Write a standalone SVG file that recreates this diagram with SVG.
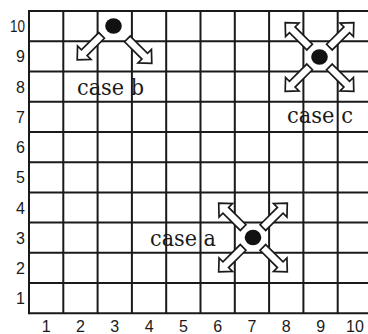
<svg xmlns="http://www.w3.org/2000/svg" xmlns:xlink="http://www.w3.org/1999/xlink" width="368" height="334" viewBox="0 0 368 334">
<style>
.g{stroke:#1a1a1a;stroke-width:2;fill:none}
.ax{font-family:"Liberation Sans",Arial,sans-serif;font-size:16px;fill:#1a1a1a}
.lab{font-family:"DejaVu Serif","Liberation Serif",serif;font-size:23px;fill:#1a1a1a}
.ar{fill:#fff;stroke:#1a1a1a;stroke-width:1.7;stroke-linejoin:miter}
.dot{fill:#111}
</style>
<defs>
<path id="arr" d="M14,-4 L38.5,-4 L38.5,-9.5 L48.5,0 L38.5,9.5 L38.5,4 L14,4 Z"/>
</defs>
<rect width="368" height="334" fill="#fff"/>
<g id="grid" class="g">
<path d="M29,11H368M29,41.23H368M29,71.46H368M29,101.69H368M29,131.92H368M29,162.15H368M29,192.38H368M29,222.61H368M29,252.84H368M29,283.07H368M29,313.3H368"/>
<path d="M29,10V314.3M63.3,11V313.3M97.6,11V313.3M131.9,11V313.3M166.2,11V313.3M200.5,11V313.3M234.8,11V313.3M269.1,11V313.3M303.4,11V313.3M337.7,11V313.3"/>
</g>
<g id="yaxis" class="ax" text-anchor="end">
<text x="25" y="32.1" textLength="15" lengthAdjust="spacingAndGlyphs">10</text>
<text x="25" y="62.3">9</text>
<text x="25" y="92.6">8</text>
<text x="25" y="122.8">7</text>
<text x="25" y="153">6</text>
<text x="25" y="183.3">5</text>
<text x="25" y="213.5">4</text>
<text x="25" y="243.7">3</text>
<text x="25" y="274">2</text>
<text x="25" y="304.2">1</text>
</g>
<g id="xaxis" class="ax" text-anchor="middle">
<text x="46.2" y="331.5">1</text>
<text x="80.5" y="331.5">2</text>
<text x="114.8" y="331.5">3</text>
<text x="149.1" y="331.5">4</text>
<text x="183.4" y="331.5">5</text>
<text x="217.7" y="331.5">6</text>
<text x="252" y="331.5">7</text>
<text x="286.3" y="331.5">8</text>
<text x="320.6" y="331.5">9</text>
<text x="354.9" y="331.5">10</text>
</g>
<g id="case-a">
<use xlink:href="#arr" class="ar" transform="translate(253,237.5) rotate(-135)"/>
<use xlink:href="#arr" class="ar" transform="translate(253,237.5) rotate(-45)"/>
<use xlink:href="#arr" class="ar" transform="translate(253,237.5) rotate(45)"/>
<use xlink:href="#arr" class="ar" transform="translate(253,237.5) rotate(135)"/>
<ellipse class="dot" cx="253" cy="237.5" rx="8.3" ry="7.7"/>
<text class="lab" x="150" y="246" textLength="66" lengthAdjust="spacingAndGlyphs">case a</text>
</g>
<g id="case-b">
<use xlink:href="#arr" class="ar" transform="translate(111.5,25.5) rotate(135)"/>
<use xlink:href="#arr" class="ar" transform="translate(117.5,29) rotate(45)"/>
<ellipse class="dot" cx="113.5" cy="26" rx="8.3" ry="7.7"/>
<text class="lab" x="77" y="95" textLength="67" lengthAdjust="spacingAndGlyphs">case b</text>
</g>
<g id="case-c">
<use xlink:href="#arr" class="ar" transform="translate(319.5,57) rotate(-135)"/>
<use xlink:href="#arr" class="ar" transform="translate(319.5,57) rotate(-45)"/>
<use xlink:href="#arr" class="ar" transform="translate(319.5,57) rotate(45)"/>
<use xlink:href="#arr" class="ar" transform="translate(319.5,57) rotate(135)"/>
<ellipse class="dot" cx="319.5" cy="57" rx="8.3" ry="7.7"/>
<text class="lab" x="287" y="123" textLength="66" lengthAdjust="spacingAndGlyphs">case c</text>
</g>
</svg>
